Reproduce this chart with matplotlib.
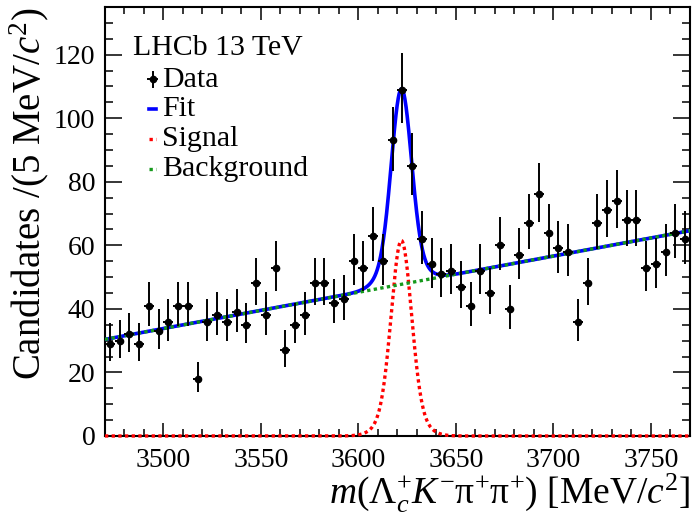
import numpy as np
import matplotlib
matplotlib.use("Agg")
import matplotlib.pyplot as plt
from matplotlib.ticker import MultipleLocator

plt.rcParams['font.family'] = ['Liberation Serif', 'DejaVu Serif']
plt.rcParams['mathtext.fontset'] = 'custom'
plt.rcParams['mathtext.rm'] = 'Liberation Serif'
plt.rcParams['mathtext.it'] = 'Liberation Serif:italic'
plt.rcParams['mathtext.bf'] = 'Liberation Serif:bold'

# Binning: 5 MeV bins from 3470 to 3770
mass_lo = 3470
mass_hi = 3770
bin_width = 5

# Candidates per bin
counts = [29, 30, 32, 29, 41, 33, 36, 41, 41, 18,
          36, 38, 36, 39, 35, 48, 38, 53, 27, 35,
          38, 48, 48, 42, 43, 55, 53, 63, 55, 93,
          109, 85, 62, 54, 51, 52, 47, 41, 52, 45,
          60, 40, 57, 67, 76, 64, 59, 58, 36, 48,
          67, 71, 74, 68, 68, 53, 54, 58, 64, 62]

# Fit components (parameters)
bkg_at_lo = 30.4
bkg_at_hi = 64.6
peak_mean = 3622.0
core_amp, core_sigma = 51.0, 5.0
wide_amp, wide_sigma = 10.5, 8.5

legend_labels = ['Data', 'Fit', 'Signal', 'Background']

centers = mass_lo + bin_width * (np.arange(len(counts)) + 0.5)
n = np.array(counts, dtype=float)
# asymmetric Poisson errors (Gehrels approximation)
err_hi = np.sqrt(n + 0.75) + 1.0
err_lo = n - n * (1 - 1 / (9 * n) - 1 / (3 * np.sqrt(n))) ** 3

xs = np.linspace(mass_lo, mass_hi, 1501)
bkg = bkg_at_lo + (bkg_at_hi - bkg_at_lo) * (xs - mass_lo) / (mass_hi - mass_lo)
sig = (core_amp * np.exp(-0.5 * ((xs - peak_mean) / core_sigma) ** 2)
       + wide_amp * np.exp(-0.5 * ((xs - peak_mean) / wide_sigma) ** 2))

fig = plt.figure(figsize=(6.92, 5.17), dpi=100)
ax = fig.add_axes([0.1517, 0.1567, 0.8454, 0.8298])

green = '#16991c'
dots = (0, (1.0, 1.0))

ax.plot(xs, sig, color='red', ls=dots, lw=2.4, clip_on=False, zorder=3)
ax.plot(xs, sig + bkg, color='blue', lw=2.6, zorder=3)
ax.plot(xs, bkg, color=green, ls=dots, lw=2.4, zorder=3)
ax.errorbar(centers, n, xerr=bin_width / 2, yerr=[err_lo, err_hi], fmt='o',
            color='black', ms=4.5, elinewidth=1.4, capsize=0, zorder=5)

ax.set_xlim(mass_lo, mass_hi)
ax.set_ylim(0, 135)

ax.xaxis.set_major_locator(MultipleLocator(50))
ax.xaxis.set_minor_locator(MultipleLocator(10))
ax.yaxis.set_major_locator(MultipleLocator(20))
ax.yaxis.set_minor_locator(MultipleLocator(5))

ax.tick_params(which='both', direction='in', top=True, right=True, labelsize=20, width=1.1)
ax.tick_params(axis='x', which='major', length=9.5, pad=9)
ax.tick_params(axis='x', which='minor', length=5)
ax.tick_params(axis='y', which='major', length=12, pad=7)
ax.tick_params(axis='y', which='minor', length=6)
for sp in ax.spines.values():
    sp.set_linewidth(1.5)

ax.set_xlabel(r'$m(\mathit{\Lambda}_{c}^{+}K^{-}\mathrm{\pi}^{+}\mathrm{\pi}^{+})$ [MeV/$c^{2}$]',
              fontsize=27, loc='right')
ax.set_ylabel(r'Candidates /(5 MeV/$c^{2}$)', fontsize=28, loc='top')
ax.xaxis.set_label_coords(1.0, -0.083)
ax.yaxis.set_label_coords(-0.093, 1.0)

# legend, ROOT style: title line then small handles with labels
ax.text(0.048, 0.889, 'LHCb 13 TeV', transform=ax.transAxes, fontsize=21.5,
        va='baseline', ha='left')
hx = 0.0815          # handle centre (axes fraction)
hw = 0.006           # handle half width
tx = 0.098           # label start
rows = [0.814, 0.745, 0.675, 0.606]   # label baselines
off = 0.017          # handle height above baseline
for lab, yb in zip(legend_labels, rows):
    ax.text(tx, yb, lab, transform=ax.transAxes, fontsize=21.5, va='baseline', ha='left')
    yh = yb + off
    if lab == 'Data':
        ax.plot([hx, hx], [yh - 0.017, yh + 0.017], transform=ax.transAxes,
                color='black', lw=1.4, clip_on=False)
        ax.plot([hx - 0.008, hx + 0.008], [yh, yh], transform=ax.transAxes,
                color='black', lw=1.4, clip_on=False)
        ax.plot([hx], [yh], 'o', color='black', ms=4.5, transform=ax.transAxes)
    elif lab == 'Fit':
        ax.plot([hx - hw, hx + hw], [yh, yh], transform=ax.transAxes,
                color='blue', lw=2.6)
    elif lab == 'Signal':
        ax.plot([hx - hw, hx + hw], [yh, yh], transform=ax.transAxes,
                color='red', lw=2.4, ls=dots)
    else:
        ax.plot([hx - hw, hx + hw], [yh, yh], transform=ax.transAxes,
                color=green, lw=2.4, ls=dots)

fig.savefig('out.png', dpi=100)
